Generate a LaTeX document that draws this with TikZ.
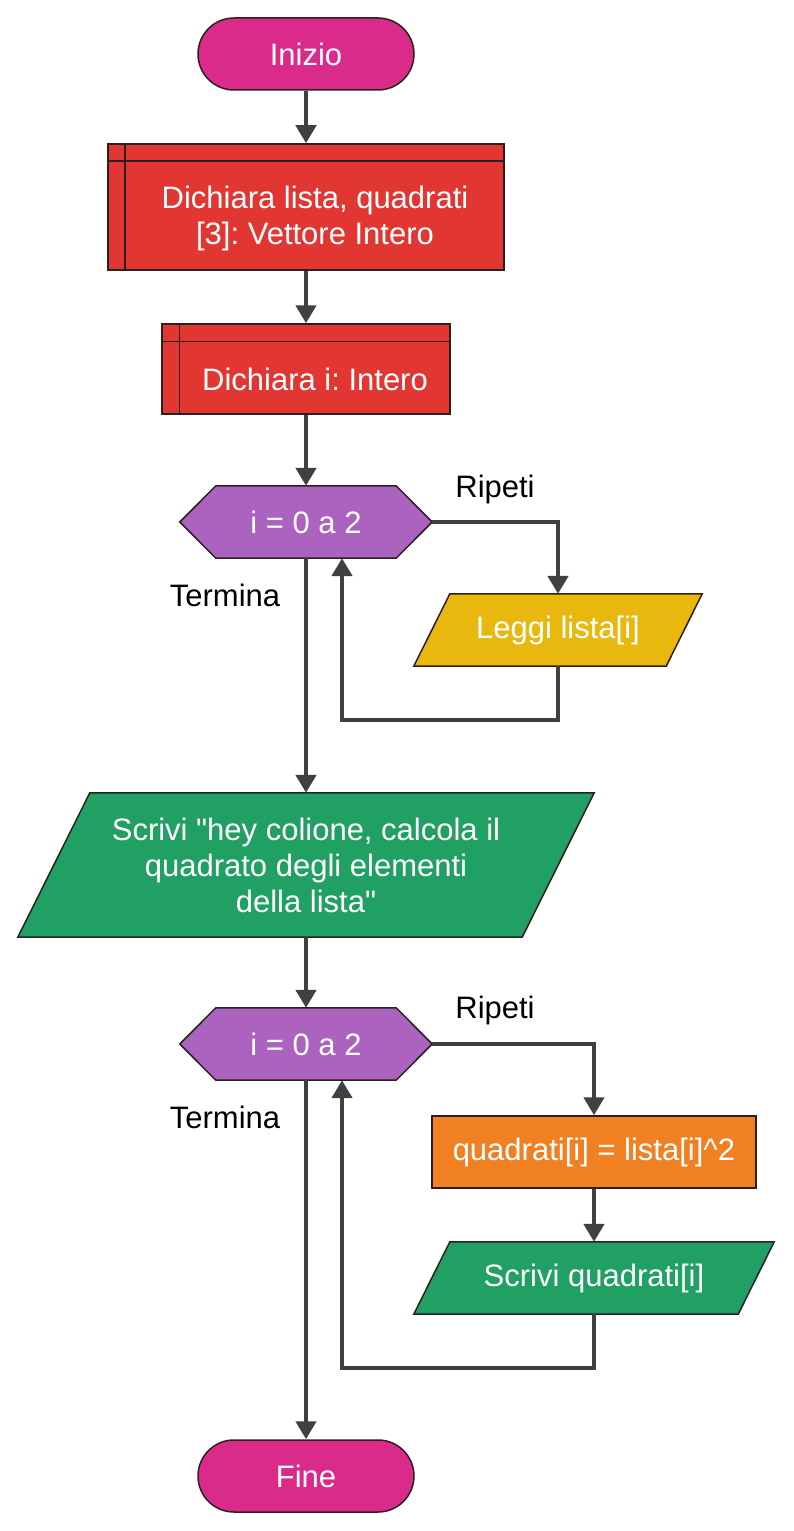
\documentclass[tikz,border=0pt]{standalone}
\usepackage{fontspec}
\setmainfont{Liberation Sans}[Ligatures=TeXOff]
\usetikzlibrary{arrows.meta,shapes.misc,backgrounds,calc}
\definecolor{cterm}{HTML}{DA2A8A}
\definecolor{cdecl}{HTML}{E13632}
\definecolor{cloop}{HTML}{AB63BF}
\definecolor{cin}{HTML}{E8B80F}
\definecolor{cout}{HTML}{21A063}
\definecolor{cproc}{HTML}{F08022}
\definecolor{cline}{HTML}{404040}
\definecolor{cedge}{HTML}{2A2020}
\frenchspacing
\begin{document}
\begin{tikzpicture}[x=1bp,y=-1bp,
  font=\fontsize{31bp}{36bp}\selectfont,
  shapeedge/.style={draw=cedge,line width=1.5bp},
  term/.style={rounded rectangle,shapeedge,fill=cterm,text=white,minimum width=216bp,minimum height=72bp,inner sep=0pt},
  declbox/.style={rectangle,shapeedge,fill=cdecl,inner sep=0pt},
  innerline/.style={draw=cedge,line width=1.5bp},
  frame/.style={rectangle,inner sep=0pt,text=white,align=center},
  txt/.style={inner sep=0pt,text=white,align=center},
  lbl/.style={inner sep=0pt,text=black},
  conn/.style={draw=cline,line width=4.5bp,-{Triangle[length=18bp,width=20bp]}}
]
\useasboundingbox (0,0) rectangle (793,1531);

% terminals
\node[term] (start) at (306,54) {Inizio};
\node[term] (fine) at (306,1476) {Fine};

% declarations
\node[declbox,minimum width=396bp,minimum height=126bp] (d1) at (306,207) {};
\draw[innerline] ([xshift=18bp]d1.north west) -- ([xshift=18bp]d1.south west);
\draw[innerline] ([yshift=-18bp]d1.north west) -- ([yshift=-18bp]d1.north east);
\node[txt] (d1t) at (315,218) {Dichiara lista, quadrati\\ {[}3]: Vettore Intero};

\node[declbox,minimum width=288bp,minimum height=90bp] (d2) at (306,369) {};
\draw[innerline] ([xshift=18bp]d2.north west) -- ([xshift=18bp]d2.south west);
\draw[innerline] ([yshift=-18bp]d2.north west) -- ([yshift=-18bp]d2.north east);
\node[txt] (d2t) at (315,379) {Dichiara i: Intero};

% loops
\node[frame,minimum width=252bp,minimum height=72bp] (h1) at (306,522) {i = 0 a 2};
\node[frame,minimum width=252bp,minimum height=72bp] (h2) at (306,1044) {i = 0 a 2};

% input / output / process
\node[frame,minimum width=288bp,minimum height=72bp] (p1) at (558,630) {Leggi lista[i]};
\node[frame,minimum width=576bp,minimum height=144bp] (s1) at (306,865) {Scrivi "hey colione, calcola il\\ quadrato degli elementi\\ della lista"};
\node[frame,draw=cedge,line width=1.5bp,fill=cproc,minimum width=324bp,minimum height=72bp] (o1) at (594,1152) {quadrati[i] = lista[i]\^{}2};
\node[frame,minimum width=360bp,minimum height=72bp] (p2) at (594,1278) {Scrivi quadrati[i]};

\begin{scope}[on background layer]
  \path[shapeedge,fill=cloop] (h1.west) -- ($(h1.north west)+(36,0)$) -- ($(h1.north east)-(36,0)$) -- (h1.east) -- ($(h1.south east)-(36,0)$) -- ($(h1.south west)+(36,0)$) -- cycle;
  \path[shapeedge,fill=cloop] (h2.west) -- ($(h2.north west)+(36,0)$) -- ($(h2.north east)-(36,0)$) -- (h2.east) -- ($(h2.south east)-(36,0)$) -- ($(h2.south west)+(36,0)$) -- cycle;
  \path[shapeedge,fill=cin] ($(p1.north west)+(36,0)$) -- (p1.north east) -- ($(p1.south east)-(36,0)$) -- (p1.south west) -- cycle;
  \path[shapeedge,fill=cout] ($(s1.north west)+(72,0)$) -- (s1.north east) -- ($(s1.south east)-(72,0)$) -- (s1.south west) -- cycle;
  \path[shapeedge,fill=cout] ($(p2.north west)+(36,0)$) -- (p2.north east) -- ($(p2.south east)-(36,0)$) -- (p2.south west) -- cycle;
\end{scope}

% labels
\node[lbl] (r1) at (495,489) {Ripeti};
\node[lbl] (t1) at (225,595) {Termina};
\node[lbl] (r2) at (495,1010) {Ripeti};
\node[lbl] (t2) at (225,1117) {Termina};

% connectors
\coordinate (back1) at ($(h1.south)+(36,0)$);
\coordinate (back2) at ($(h2.south)+(36,0)$);
\draw[conn] (start.south) -- (d1.north);
\draw[conn] (d1.south) -- (d2.north);
\draw[conn] (d2.south) -- (h1.north);
\draw[conn] (h1.east) -| (p1.north);
\draw[conn] (p1.south) -- ++(0,54) -| (back1);
\draw[conn] (h1.south) -- (s1.north);
\draw[conn] (s1.south) -- (h2.north);
\draw[conn] (h2.east) -| (o1.north);
\draw[conn] (o1.south) -- (p2.north);
\draw[conn] (p2.south) -- ++(0,54) -| (back2);
\draw[conn] (h2.south) -- (fine.north);
\end{tikzpicture}
\end{document}
